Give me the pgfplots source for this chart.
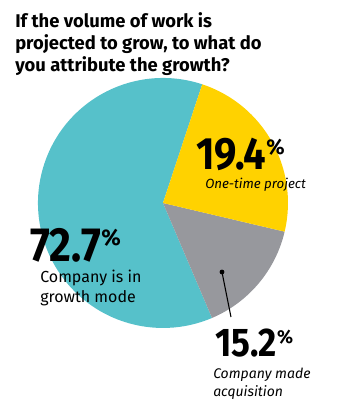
\documentclass[border=0pt]{standalone}
\usepackage{pgfplots}
\pgfplotsset{compat=1.18}
\usepackage{fontspec}
\setmainfont{Fira Sans}
\definecolor{pteal}{RGB}{86,193,202}
\definecolor{pyellow}{RGB}{255,210,0}
\definecolor{pgray}{RGB}{151,152,157}
\newcommand{\bignum}[2]{\scalebox{0.88}[1]{#1}\raisebox{0.34em}{\fontsize{#2}{#2}\selectfont\%}}
\begin{document}
\begin{tikzpicture}
\begin{axis}[
  x=93.75pt, y=93.75pt,
  xmin=-1.304, xmax=1.576, ymin=-1.576, ymax=1.624,
  hide axis, clip=false, scale only axis,
]
\path (axis cs:-1.304,-1.576) rectangle (axis cs:1.576,1.624);
% slices: shares (percent of circle) as drawn, start angle 71.7
\fill[pteal] (axis cs:0,0) -- (axis cs:{cos(71.7)},{sin(71.7)}) arc[start angle=71.7, delta angle={3.6*61.5}, radius=93.75pt] -- cycle;
\fill[pgray] (axis cs:0,0) -- (axis cs:{cos(71.7+3.6*61.5)},{sin(71.7+3.6*61.5)}) arc[start angle={71.7+3.6*61.5}, delta angle={3.6*14.9}, radius=93.75pt] -- cycle;
\fill[pyellow] (axis cs:0,0) -- (axis cs:{cos(71.7+3.6*76.4)},{sin(71.7+3.6*76.4)}) arc[start angle={71.7+3.6*76.4}, delta angle={3.6*23.6}, radius=93.75pt] -- cycle;
% title
\node[anchor=north west, inner sep=0pt, align=left, font=\bfseries\fontsize{13.8}{16.5}\selectfont] at (axis cs:-1.184,1.528)
  {If the volume of work is\\projected to grow, to what do\\you attribute the growth?};
% labels
\node[anchor=base west, inner sep=0pt, font=\bfseries\fontsize{34}{34}\selectfont] at (axis cs:0.264,0.264) {\bignum{19.4}{16}};
\node[anchor=base west, inner sep=0pt, font=\itshape\fontsize{10}{12}\selectfont] at (axis cs:0.336,0.112) {One-time project};
\node[anchor=base west, inner sep=0pt, font=\bfseries\fontsize{36}{36}\selectfont] at (axis cs:-1.064,-0.472) {\bignum{72.7}{17}};
\node[anchor=base west, inner sep=0pt, align=left, font=\fontsize{12}{15}\selectfont] at (axis cs:-0.984,-0.8) {Company is in\\growth mode};
\node[anchor=base west, inner sep=0pt, font=\bfseries\fontsize{30}{30}\selectfont] at (axis cs:0.416,-1.232) {\bignum{15.2}{14}};
\node[anchor=base west, inner sep=0pt, align=left, font=\itshape\fontsize{10.5}{14}\selectfont] at (axis cs:0.4,-1.552) {Company made\\acquisition};
% leader
\draw[black, line width=0.8pt] (axis cs:0.472,-0.552) -- (axis cs:0.544,-0.912);
\fill[black] (axis cs:0.472,-0.552) circle[radius=1.8pt];
\end{axis}
\end{tikzpicture}
\end{document}
